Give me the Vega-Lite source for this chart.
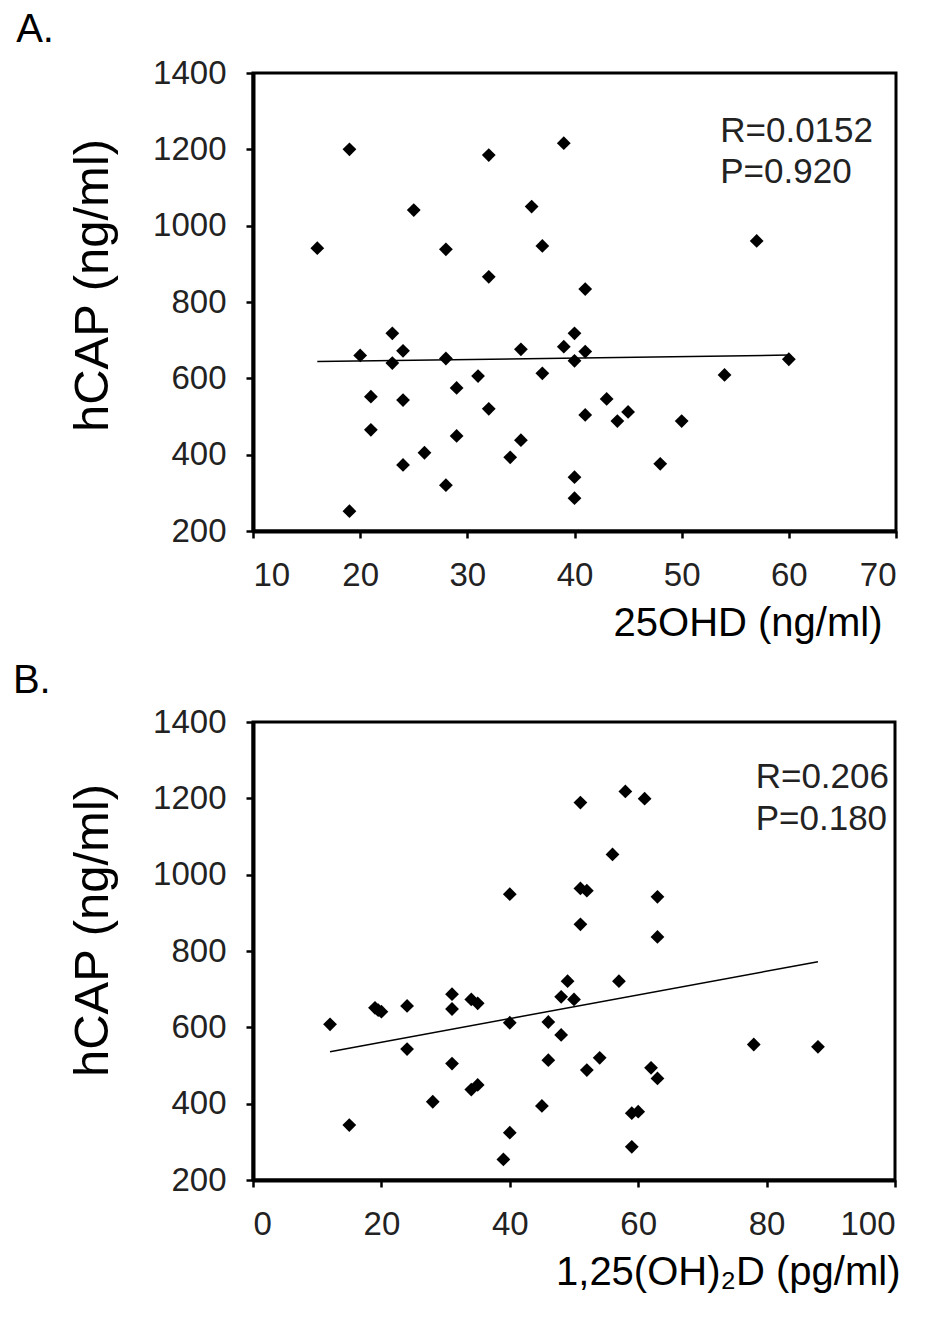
{
  "$schema": "https://vega.github.io/schema/vega-lite/v6.json",
  "background": "white",
  "padding": {"left": 11, "top": 8, "right": 5, "bottom": 5},
  "spacing": 191,
  "bounds": "flush",
  "config": {
    "font": "Liberation Sans",
    "view": {"stroke": "black", "strokeWidth": 3},
    "axis": {
      "grid": false,
      "domainColor": "black",
      "domainWidth": 4,
      "tickColor": "black",
      "tickWidth": 2.5,
      "tickSize": 7,
      "format": "d",
      "labelFont": "Liberation Sans",
      "labelFontSize": 33,
      "labelColor": "#222",
      "titleFont": "Liberation Sans",
      "titleFontWeight": "normal",
      "titleColor": "black"
    }
  },
  "vconcat": [
    {
      "width": 643,
      "height": 458,
      "layer": [
        {
          "data": {"values": [
            {"x": 16, "y": 941}, {"x": 19, "y": 1200}, {"x": 19, "y": 252}, {"x": 20, "y": 660},
            {"x": 21, "y": 552}, {"x": 21, "y": 465}, {"x": 23, "y": 718}, {"x": 23, "y": 640},
            {"x": 24, "y": 672}, {"x": 24, "y": 543}, {"x": 24, "y": 373}, {"x": 25, "y": 1041},
            {"x": 26, "y": 405}, {"x": 28, "y": 938}, {"x": 28, "y": 652}, {"x": 28, "y": 320},
            {"x": 29, "y": 575}, {"x": 29, "y": 449}, {"x": 31, "y": 606}, {"x": 32, "y": 1185},
            {"x": 32, "y": 866}, {"x": 32, "y": 520}, {"x": 34, "y": 393}, {"x": 35, "y": 676},
            {"x": 35, "y": 438}, {"x": 36, "y": 1050}, {"x": 37, "y": 947}, {"x": 37, "y": 613},
            {"x": 39, "y": 1216}, {"x": 39, "y": 683}, {"x": 40, "y": 718}, {"x": 40, "y": 646},
            {"x": 40, "y": 341}, {"x": 40, "y": 286}, {"x": 41, "y": 834}, {"x": 41, "y": 670},
            {"x": 41, "y": 504}, {"x": 43, "y": 546}, {"x": 44, "y": 488}, {"x": 45, "y": 512},
            {"x": 48, "y": 376}, {"x": 50, "y": 488}, {"x": 54, "y": 609}, {"x": 57, "y": 960},
            {"x": 60, "y": 650}
          ]},
          "mark": {"type": "point", "shape": "diamond", "filled": true, "size": 190, "color": "black", "opacity": 1},
          "encoding": {
            "x": {"field": "x", "type": "quantitative", "scale": {"domain": [10, 70], "nice": false},
              "axis": {"values": [10, 20, 30, 40, 50, 60, 70], "title": "25OHD (ng/ml)", "titleFontSize": 40,
                "labelPadding": 21, "titleX": 629, "titleY": 104, "titleAlign": "right", "titleBaseline": "alphabetic"}},
            "y": {"field": "y", "type": "quantitative", "scale": {"domain": [200, 1400], "nice": false},
              "axis": {"values": [200, 400, 600, 800, 1000, 1200, 1400], "title": "hCAP (ng/ml)", "titleFontSize": 49,
                "labelPadding": 20, "titleX": -146, "titleY": 212, "titleAngle": -90, "titleAlign": "center", "titleBaseline": "alphabetic"}}
          }
        },
        {
          "data": {"values": [{"x": 16, "y": 644}, {"x": 60, "y": 661}]},
          "mark": {"type": "line", "color": "black", "strokeWidth": 1.5},
          "encoding": {"x": {"field": "x", "type": "quantitative"}, "y": {"field": "y", "type": "quantitative"}}
        },
        {
          "data": {"values": [{"x": 53.6, "y": 1219, "label": "R=0.0152"}, {"x": 53.6, "y": 1112, "label": "P=0.920"}]},
          "mark": {"type": "text", "align": "left", "baseline": "alphabetic", "fontSize": 35, "color": "#222", "font": "Liberation Sans"},
          "encoding": {"x": {"field": "x", "type": "quantitative"}, "y": {"field": "y", "type": "quantitative"}, "text": {"field": "label"}}
        },
        {
          "data": {"values": [{"x": -12.1, "y": 1481, "label": "A."}]},
          "mark": {"type": "text", "align": "left", "baseline": "alphabetic", "fontSize": 40, "color": "black", "font": "Liberation Sans"},
          "encoding": {"x": {"field": "x", "type": "quantitative"}, "y": {"field": "y", "type": "quantitative"}, "text": {"field": "label"}}
        }
      ]
    },
    {
      "width": 642,
      "height": 458,
      "layer": [
        {
          "data": {"values": [
            {"x": 12, "y": 608}, {"x": 15, "y": 344}, {"x": 19, "y": 651}, {"x": 19.5, "y": 645},
            {"x": 20, "y": 641}, {"x": 24, "y": 656}, {"x": 24, "y": 543}, {"x": 28, "y": 405},
            {"x": 31, "y": 687}, {"x": 31, "y": 648}, {"x": 31, "y": 505}, {"x": 34, "y": 673},
            {"x": 35, "y": 663}, {"x": 34, "y": 437}, {"x": 35, "y": 449}, {"x": 40, "y": 949},
            {"x": 40, "y": 612}, {"x": 40, "y": 324}, {"x": 39, "y": 254}, {"x": 45, "y": 394},
            {"x": 46, "y": 614}, {"x": 46, "y": 514}, {"x": 48, "y": 580}, {"x": 48, "y": 680},
            {"x": 49, "y": 721}, {"x": 50, "y": 673}, {"x": 51, "y": 1189}, {"x": 51, "y": 964},
            {"x": 52, "y": 958}, {"x": 51, "y": 870}, {"x": 52, "y": 488}, {"x": 54, "y": 520},
            {"x": 56, "y": 1053}, {"x": 57, "y": 721}, {"x": 58, "y": 1218}, {"x": 61, "y": 1199},
            {"x": 59, "y": 375}, {"x": 60, "y": 379}, {"x": 59, "y": 287}, {"x": 62, "y": 494},
            {"x": 63, "y": 466}, {"x": 63, "y": 942}, {"x": 63, "y": 837}, {"x": 78, "y": 555},
            {"x": 88, "y": 549}
          ]},
          "mark": {"type": "point", "shape": "diamond", "filled": true, "size": 190, "color": "black", "opacity": 1},
          "encoding": {
            "x": {"field": "x", "type": "quantitative", "scale": {"domain": [0, 100], "nice": false},
              "axis": {"values": [0, 20, 40, 60, 80, 100], "title": "1,25(OH)₂D (pg/ml)", "titleFontSize": 40,
                "labelPadding": 21, "titleX": 647, "titleY": 104, "titleAlign": "right", "titleBaseline": "alphabetic"}},
            "y": {"field": "y", "type": "quantitative", "scale": {"domain": [200, 1400], "nice": false},
              "axis": {"values": [200, 400, 600, 800, 1000, 1200, 1400], "title": "hCAP (ng/ml)", "titleFontSize": 49,
                "labelPadding": 20, "titleX": -146, "titleY": 208, "titleAngle": -90, "titleAlign": "center", "titleBaseline": "alphabetic"}}
          }
        },
        {
          "data": {"values": [{"x": 12, "y": 536}, {"x": 88, "y": 772}]},
          "mark": {"type": "line", "color": "black", "strokeWidth": 1.5},
          "encoding": {"x": {"field": "x", "type": "quantitative"}, "y": {"field": "y", "type": "quantitative"}}
        },
        {
          "data": {"values": [{"x": 78.3, "y": 1226, "label": "R=0.206"}, {"x": 78.3, "y": 1116, "label": "P=0.180"}]},
          "mark": {"type": "text", "align": "left", "baseline": "alphabetic", "fontSize": 35, "color": "#222", "font": "Liberation Sans"},
          "encoding": {"x": {"field": "x", "type": "quantitative"}, "y": {"field": "y", "type": "quantitative"}, "text": {"field": "label"}}
        },
        {
          "data": {"values": [{"x": -37.4, "y": 1475, "label": "B."}]},
          "mark": {"type": "text", "align": "left", "baseline": "alphabetic", "fontSize": 40, "color": "black", "font": "Liberation Sans"},
          "encoding": {"x": {"field": "x", "type": "quantitative"}, "y": {"field": "y", "type": "quantitative"}, "text": {"field": "label"}}
        }
      ]
    }
  ]
}
